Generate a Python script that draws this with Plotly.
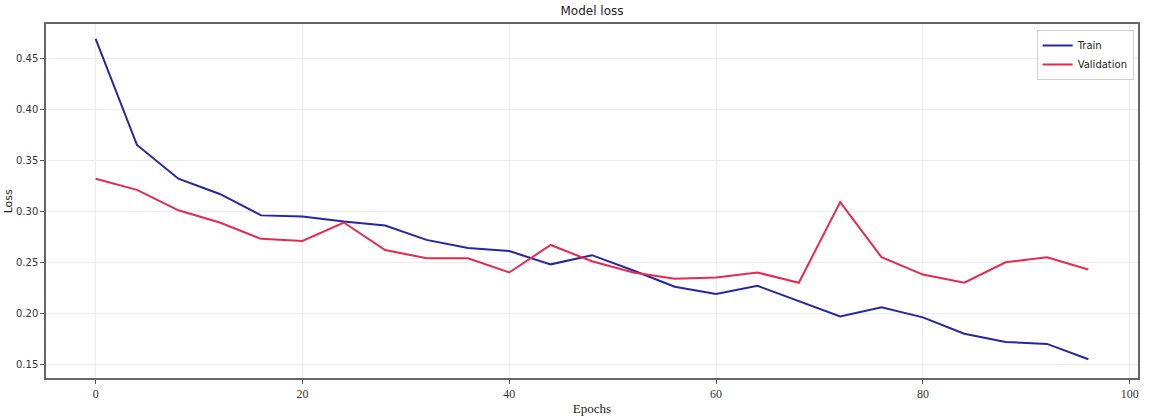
import plotly.graph_objects as go

# Training history, recorded every 4 epochs
epochs = [0, 4, 8, 12, 16, 20, 24, 28, 32, 36, 40, 44, 48,
          52, 56, 60, 64, 68, 72, 76, 80, 84, 88, 92, 96]
train_loss = [0.469, 0.365, 0.332, 0.317, 0.296, 0.295, 0.290, 0.286, 0.272,
              0.264, 0.261, 0.248, 0.257, 0.242, 0.226, 0.219, 0.227, 0.212,
              0.197, 0.206, 0.196, 0.180, 0.172, 0.170, 0.155]
val_loss = [0.332, 0.321, 0.301, 0.289, 0.273, 0.271, 0.289, 0.262, 0.254,
            0.254, 0.240, 0.267, 0.251, 0.240, 0.234, 0.235, 0.240, 0.230,
            0.309, 0.255, 0.238, 0.230, 0.250, 0.255, 0.243]
x_ticks = [0, 20, 40, 60, 80, 100]
y_ticks = [0.15, 0.20, 0.25, 0.30, 0.35, 0.40, 0.45]

fig = go.Figure()
fig.add_trace(go.Scatter(x=epochs, y=train_loss, mode="lines", name="Train",
                         line=dict(color="#2626a3", width=2)))
fig.add_trace(go.Scatter(x=epochs, y=val_loss, mode="lines", name="Validation",
                         line=dict(color="#e8294f", width=2)))

fig.update_layout(
    width=1154, height=420,
    margin=dict(l=46, r=16, t=24, b=42, autoexpand=False),
    paper_bgcolor="white", plot_bgcolor="white",
    title=dict(text="Model loss", x=0.513, xanchor="center", y=0.985, yanchor="top",
               font=dict(family="DejaVu Sans", size=12, color="#222")),
    showlegend=True,
    legend=dict(x=0.996, y=0.983, xanchor="right", yanchor="top",
                bgcolor="rgba(255,255,255,0.9)", bordercolor="#d0d0d0", borderwidth=1,
                font=dict(family="DejaVu Sans", size=10, color="#222"),
                itemwidth=30, tracegroupgap=0),
    xaxis=dict(range=[-4.8, 100.8], tickvals=x_ticks, ticktext=[str(v) for v in x_ticks],
               automargin=False,
               showgrid=True, gridcolor="#ececec", gridwidth=1, zeroline=False,
               showline=True, linecolor="#666", linewidth=1.5, mirror=True,
               ticks="outside", ticklen=4, tickcolor="#555",
               tickfont=dict(family="Liberation Serif", size=12, color="#333"),
               title=dict(text="Epochs", standoff=4,
                          font=dict(family="Liberation Serif", size=13, color="#222"))),
    yaxis=dict(range=[0.1366, 0.4836], tickvals=y_ticks, ticktext=[f"{v:.2f}" for v in y_ticks],
               automargin=False,
               showgrid=True, gridcolor="#ececec", gridwidth=1, zeroline=False,
               showline=True, linecolor="#666", linewidth=1.5, mirror=True,
               ticks="outside", ticklen=4, tickcolor="#555",
               tickfont=dict(family="DejaVu Sans", size=10, color="#333")),
    annotations=[dict(text="Loss", xref="paper", yref="paper", x=-0.0345, y=0.5,
                      xanchor="center", yanchor="middle", textangle=-90, showarrow=False,
                      font=dict(family="DejaVu Sans", size=11, color="#222"))],
)

fig.write_html("out.html")
